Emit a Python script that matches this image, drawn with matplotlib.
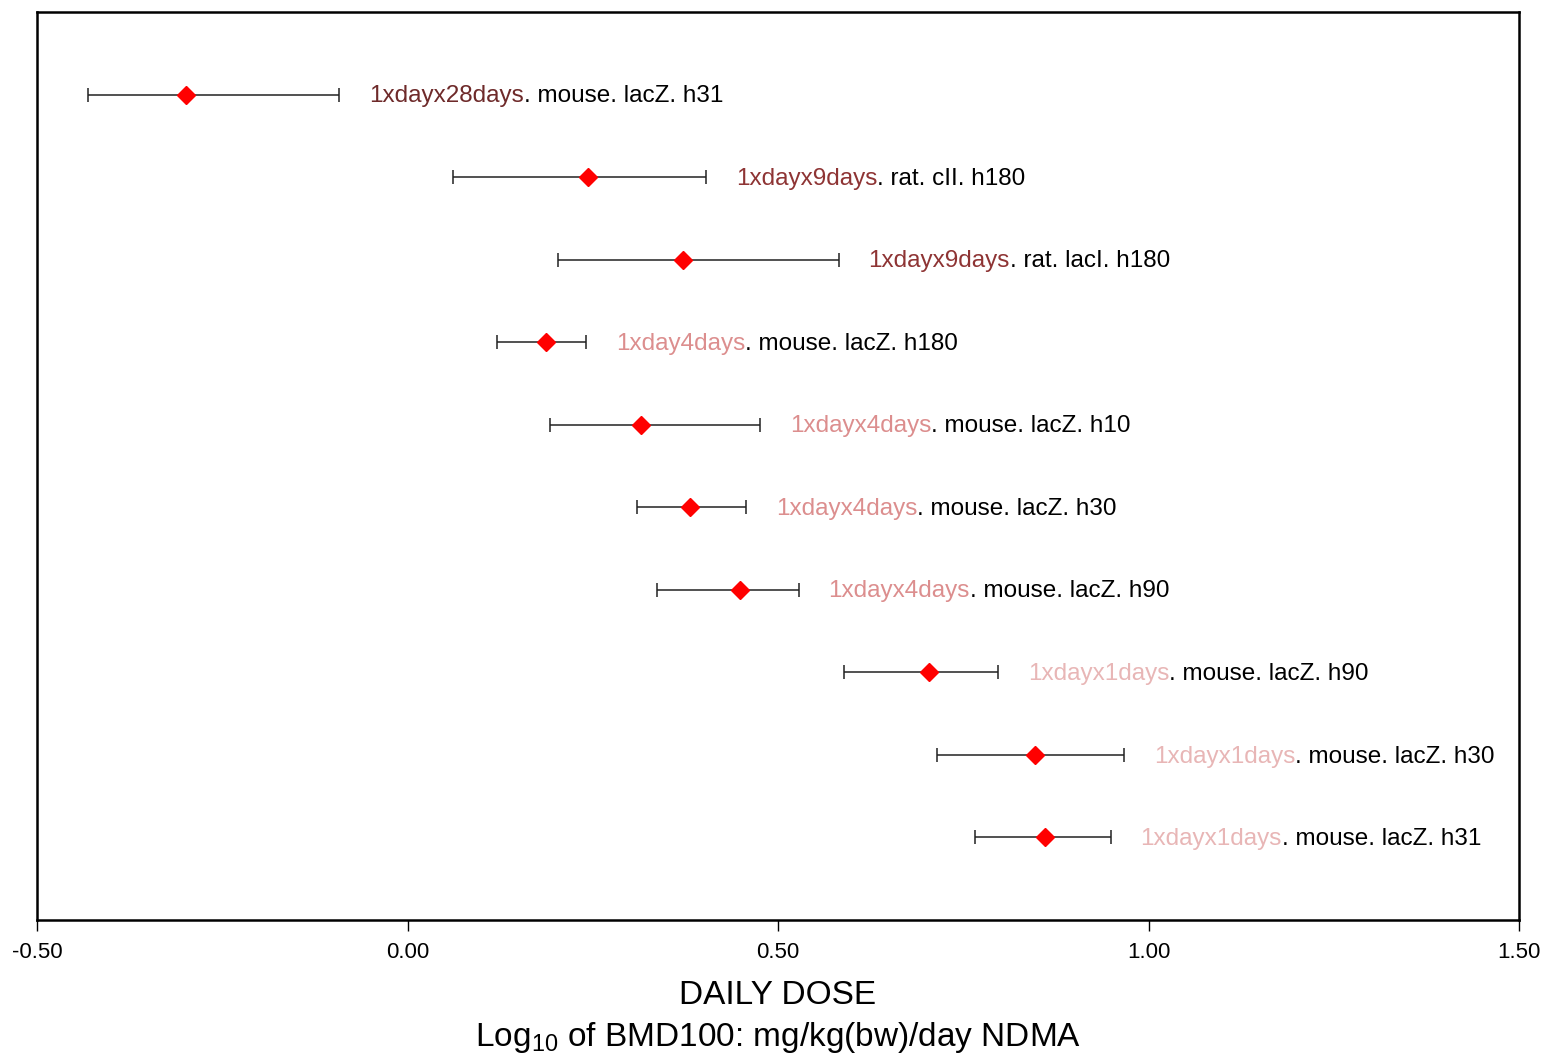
import matplotlib
matplotlib.use("Agg")
import matplotlib.pyplot as plt
import numpy as np

plt.rcParams['font.family'] = ['Liberation Sans', 'DejaVu Sans']
plt.rcParams['axes.unicode_minus'] = False
plt.rcParams['mathtext.fontset'] = 'custom'
plt.rcParams['mathtext.rm'] = 'Liberation Sans'

# regimen part of each label (coloured) and the rest (black)
regimens = ['1xdayx28days', '1xdayx9days', '1xdayx9days', '1xday4days', '1xdayx4days',
            '1xdayx4days', '1xdayx4days', '1xdayx1days', '1xdayx1days', '1xdayx1days']
studies = ['. mouse. lacZ. h31', '. rat. cII. h180', '. rat. lacI. h180', '. mouse. lacZ. h180',
           '. mouse. lacZ. h10', '. mouse. lacZ. h30', '. mouse. lacZ. h90', '. mouse. lacZ. h90',
           '. mouse. lacZ. h30', '. mouse. lacZ. h31']
# log10 BMD100 with lower / upper bounds
bmd = [-0.299, 0.244, 0.372, 0.187, 0.315, 0.381, 0.449, 0.704, 0.847, 0.860]
bmd_low = [-0.431, 0.061, 0.203, 0.121, 0.192, 0.310, 0.337, 0.589, 0.715, 0.766]
bmd_high = [-0.092, 0.403, 0.582, 0.241, 0.476, 0.457, 0.528, 0.797, 0.967, 0.949]

regimen_colors = {'1xdayx28days': '#6e2a2a', '1xdayx9days': '#8e3434',
                  '1xday4days': '#dc8e8e', '1xdayx4days': '#dc8e8e',
                  '1xdayx1days': '#e8b6b6'}

fig = plt.figure(figsize=(15.42, 10.60), dpi=100)
ax = fig.add_axes([37 / 1542, 1 - 920 / 1060, (1519 - 37) / 1542, (920 - 12) / 1060])

y = np.arange(1, len(bmd) + 1)
bmd = np.array(bmd)
err = [bmd - np.array(bmd_low), np.array(bmd_high) - bmd]
ax.errorbar(bmd, y, xerr=err, fmt='none', ecolor='#222222', elinewidth=1.1,
            capsize=5, capthick=1.1, zorder=2)
ax.plot(bmd, y, linestyle='none', marker='D', markersize=9, color='#ff0000',
        markeredgecolor='#ff0000', zorder=3)

for i in range(len(bmd)):
    t = ax.text(bmd_high[i] + 0.04, y[i] + 0.02, regimens[i], color=regimen_colors[regimens[i]],
                fontsize=17.5, va='center', ha='left')
    ax.annotate(studies[i], xy=(1, 0), xycoords=t, va='bottom', ha='left',
                fontsize=17.5, color='black')

ax.set_xlim(-0.5, 1.5)
ax.set_ylim(11, 0)
ax.set_xticks([-0.5, 0.0, 0.5, 1.0, 1.5])
ax.set_xticklabels(['%.2f' % v for v in [-0.5, 0.0, 0.5, 1.0, 1.5]], fontsize=16)
ax.set_yticks([])
ax.tick_params(axis='x', direction='out', length=8, width=1, pad=8)
for s in ax.spines.values():
    s.set_linewidth(1.8)

ax.set_xlabel('DAILY DOSE\nLog$_{10}$ of BMD100: mg/kg(bw)/day NDMA', fontsize=24,
              linespacing=1.35, labelpad=12)

fig.savefig('out.png', dpi=100)
